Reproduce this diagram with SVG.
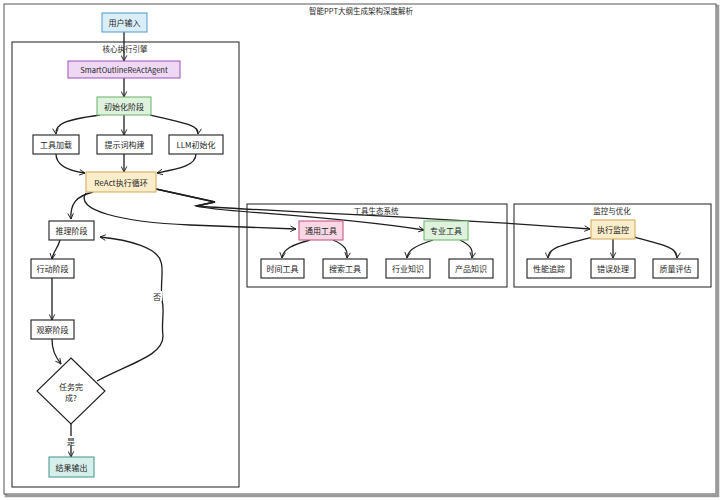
<svg xmlns="http://www.w3.org/2000/svg" width="722" height="500" viewBox="0 0 722 500">
<defs>
<marker id="arr" viewBox="0 0 10 10" refX="9" refY="5" markerWidth="7" markerHeight="7" orient="auto-start-reverse" markerUnits="userSpaceOnUse">
<path d="M1,1 L9,5 L1,9" fill="none" stroke="#1e1e1e" stroke-width="1.3"/>
</marker>
<style>
text{font-family:"Noto Sans CJK SC","Liberation Sans",sans-serif;font-size:8px;fill:#1e1e1e;text-anchor:middle;dominant-baseline:central}
.title{font-size:7.5px}
.cl{font-size:7.5px}
.box{stroke:#1e1e1e;stroke-width:1.1;fill:#fff}
.cont{fill:none;stroke:#1e1e1e;stroke-width:1}
.c path,.c line{fill:none;stroke:#1e1e1e;stroke-width:1.3;marker-end:url(#arr)}
.blue{fill:#d9eef9;stroke:#5fa3cf}
.purple{fill:#eed8f4;stroke:#a65fbf}
.green{fill:#dff2dd;stroke:#74b874}
.orange{fill:#fcedcb;stroke:#d6ae62}
.teal{fill:#d6efeb;stroke:#4e9c94}
.pink{fill:#f9d7e5;stroke:#c65a88}
</style>
</defs>
<rect x="0" y="0" width="722" height="500" fill="#fff"/>
<rect x="6" y="6" width="712" height="490" fill="none" stroke="#9a9a9a" stroke-width="2.5"/>
<rect x="4" y="4" width="712" height="490" fill="#fff" stroke="#555" stroke-width="1"/>
<text class="title" x="361" y="10">智能PPT大纲生成架构深度解析</text>

<g id="core-engine"><rect class="cont" x="12" y="42" width="227" height="445"/><text class="cl" x="125" y="48">核心执行引擎</text></g>
<g id="tool-eco"><rect class="cont" x="247" y="204" width="260" height="83"/><text class="cl" x="376" y="210">工具生态系统</text></g>
<g id="monitor"><rect class="cont" x="514" y="204" width="197" height="83"/><text class="cl" x="612" y="210">监控与优化</text></g>

<g class="c" id="connectors">
<line x1="124" y1="32" x2="124" y2="61"/>
<line x1="124" y1="78" x2="124" y2="97"/>
<path d="M100 115 C64 120 55 124 56 134"/>
<line x1="124" y1="115" x2="124" y2="135"/>
<path d="M150 115 C190 124 199 126 198 134"/>
<path d="M56 154 C56 166 70 171 85 173"/>
<line x1="124" y1="154" x2="124" y2="172"/>
<path d="M196 154 C196 166 178 169 157 173"/>
<path d="M93 192 C76 196 70 204 71 219"/>
<path d="M86 193 C74 210 120 222 190 225 L296 229"/>
<path d="M156 189 L215 202 L196 206 C215 212 320 214 424 230"/>
<path d="M156 189 L215 202 L196 206 C225 209 420 216 590 229"/>
<path d="M60 240 C58 248 53 252 52 259"/>
<line x1="52" y1="278" x2="52" y2="320"/>
<path d="M52 339 C52 350 55 356 61 364"/>
<line x1="71" y1="424" x2="71" y2="457"/>
<path d="M97 381 C130 363 163 356 163 336 C161 322 165 312 162 300 C160 285 164 270 161 262 C158 248 130 240 100 237"/>
<path d="M310 240 C292 245 283 249 282 258"/>
<path d="M333 240 C345 245 348 250 347 258"/>
<path d="M433 240 C415 246 408 250 407 258"/>
<path d="M460 240 C472 246 473 250 472 258"/>
<path d="M593 237 C561 245 548 248 548 258"/>
<line x1="613" y1="239" x2="613" y2="258"/>
<path d="M634 237 C665 245 678 248 677 258"/>
</g>
<g id="edge-labels">
<rect x="66" y="436" width="10" height="10" fill="#fff"/><text x="71" y="441">是</text>
<rect x="152" y="291" width="10" height="10" fill="#fff"/><text x="157" y="296">否</text>
</g>

<g id="user-input"><rect class="box blue" x="102" y="13" width="45" height="19"/><text x="124.5" y="22.5">用户输入</text></g>
<g id="agent"><rect class="box purple" x="68" y="61" width="112" height="17"/><text x="124" y="69.5" style="font-size:7.5px">SmartOutlineReActAgent</text></g>
<g id="init"><rect class="box green" x="97" y="97" width="54" height="18"/><text x="124" y="106">初始化阶段</text></g>
<g id="tool-load"><rect class="box" x="33" y="135" width="46" height="19"/><text x="56" y="144.5">工具加载</text></g>
<g id="prompt-build"><rect class="box" x="97" y="135" width="55" height="19"/><text x="124.5" y="144.5">提示词构建</text></g>
<g id="llm-init"><rect class="box" x="169" y="135" width="54" height="19"/><text x="196" y="144.5">LLM初始化</text></g>
<g id="react-loop"><rect class="box orange" x="86" y="172" width="70" height="20"/><text x="121" y="182">ReAct执行循环</text></g>
<g id="reason"><rect class="box" x="49" y="221" width="45" height="19"/><text x="71.5" y="230.5">推理阶段</text></g>
<g id="act"><rect class="box" x="31" y="259" width="43" height="19"/><text x="52.5" y="268.5">行动阶段</text></g>
<g id="observe"><rect class="box" x="31" y="320" width="43" height="19"/><text x="52.5" y="329.5">观察阶段</text></g>
<g id="done"><path class="box" d="M71 358 L105 391 L71 424 L37 391 Z"/><text x="71" y="386">任务完</text><text x="71" y="397">成?</text></g>
<g id="result"><rect class="box teal" x="49" y="457" width="45" height="20"/><text x="71.5" y="467">结果输出</text></g>

<g id="general-tools"><rect class="box pink" x="299" y="221" width="44" height="19"/><text x="321" y="230.5">通用工具</text></g>
<g id="pro-tools"><rect class="box green" x="424" y="221" width="44" height="19"/><text x="446" y="230.5">专业工具</text></g>
<g id="time-tool"><rect class="box" x="261" y="259" width="43" height="19"/><text x="282.5" y="268.5">时间工具</text></g>
<g id="search-tool"><rect class="box" x="323" y="259" width="44" height="19"/><text x="345" y="268.5">搜索工具</text></g>
<g id="industry"><rect class="box" x="386" y="259" width="44" height="19"/><text x="408" y="268.5">行业知识</text></g>
<g id="product"><rect class="box" x="449" y="259" width="44" height="19"/><text x="471" y="268.5">产品知识</text></g>

<g id="exec-monitor"><rect class="box orange" x="591" y="220" width="44" height="19"/><text x="613" y="229.5">执行监控</text></g>
<g id="perf"><rect class="box" x="527" y="259" width="44" height="19"/><text x="549" y="268.5">性能追踪</text></g>
<g id="error"><rect class="box" x="591" y="259" width="44" height="19"/><text x="613" y="268.5">错误处理</text></g>
<g id="quality"><rect class="box" x="653" y="259" width="45" height="19"/><text x="675.5" y="268.5">质量评估</text></g>
</svg>
